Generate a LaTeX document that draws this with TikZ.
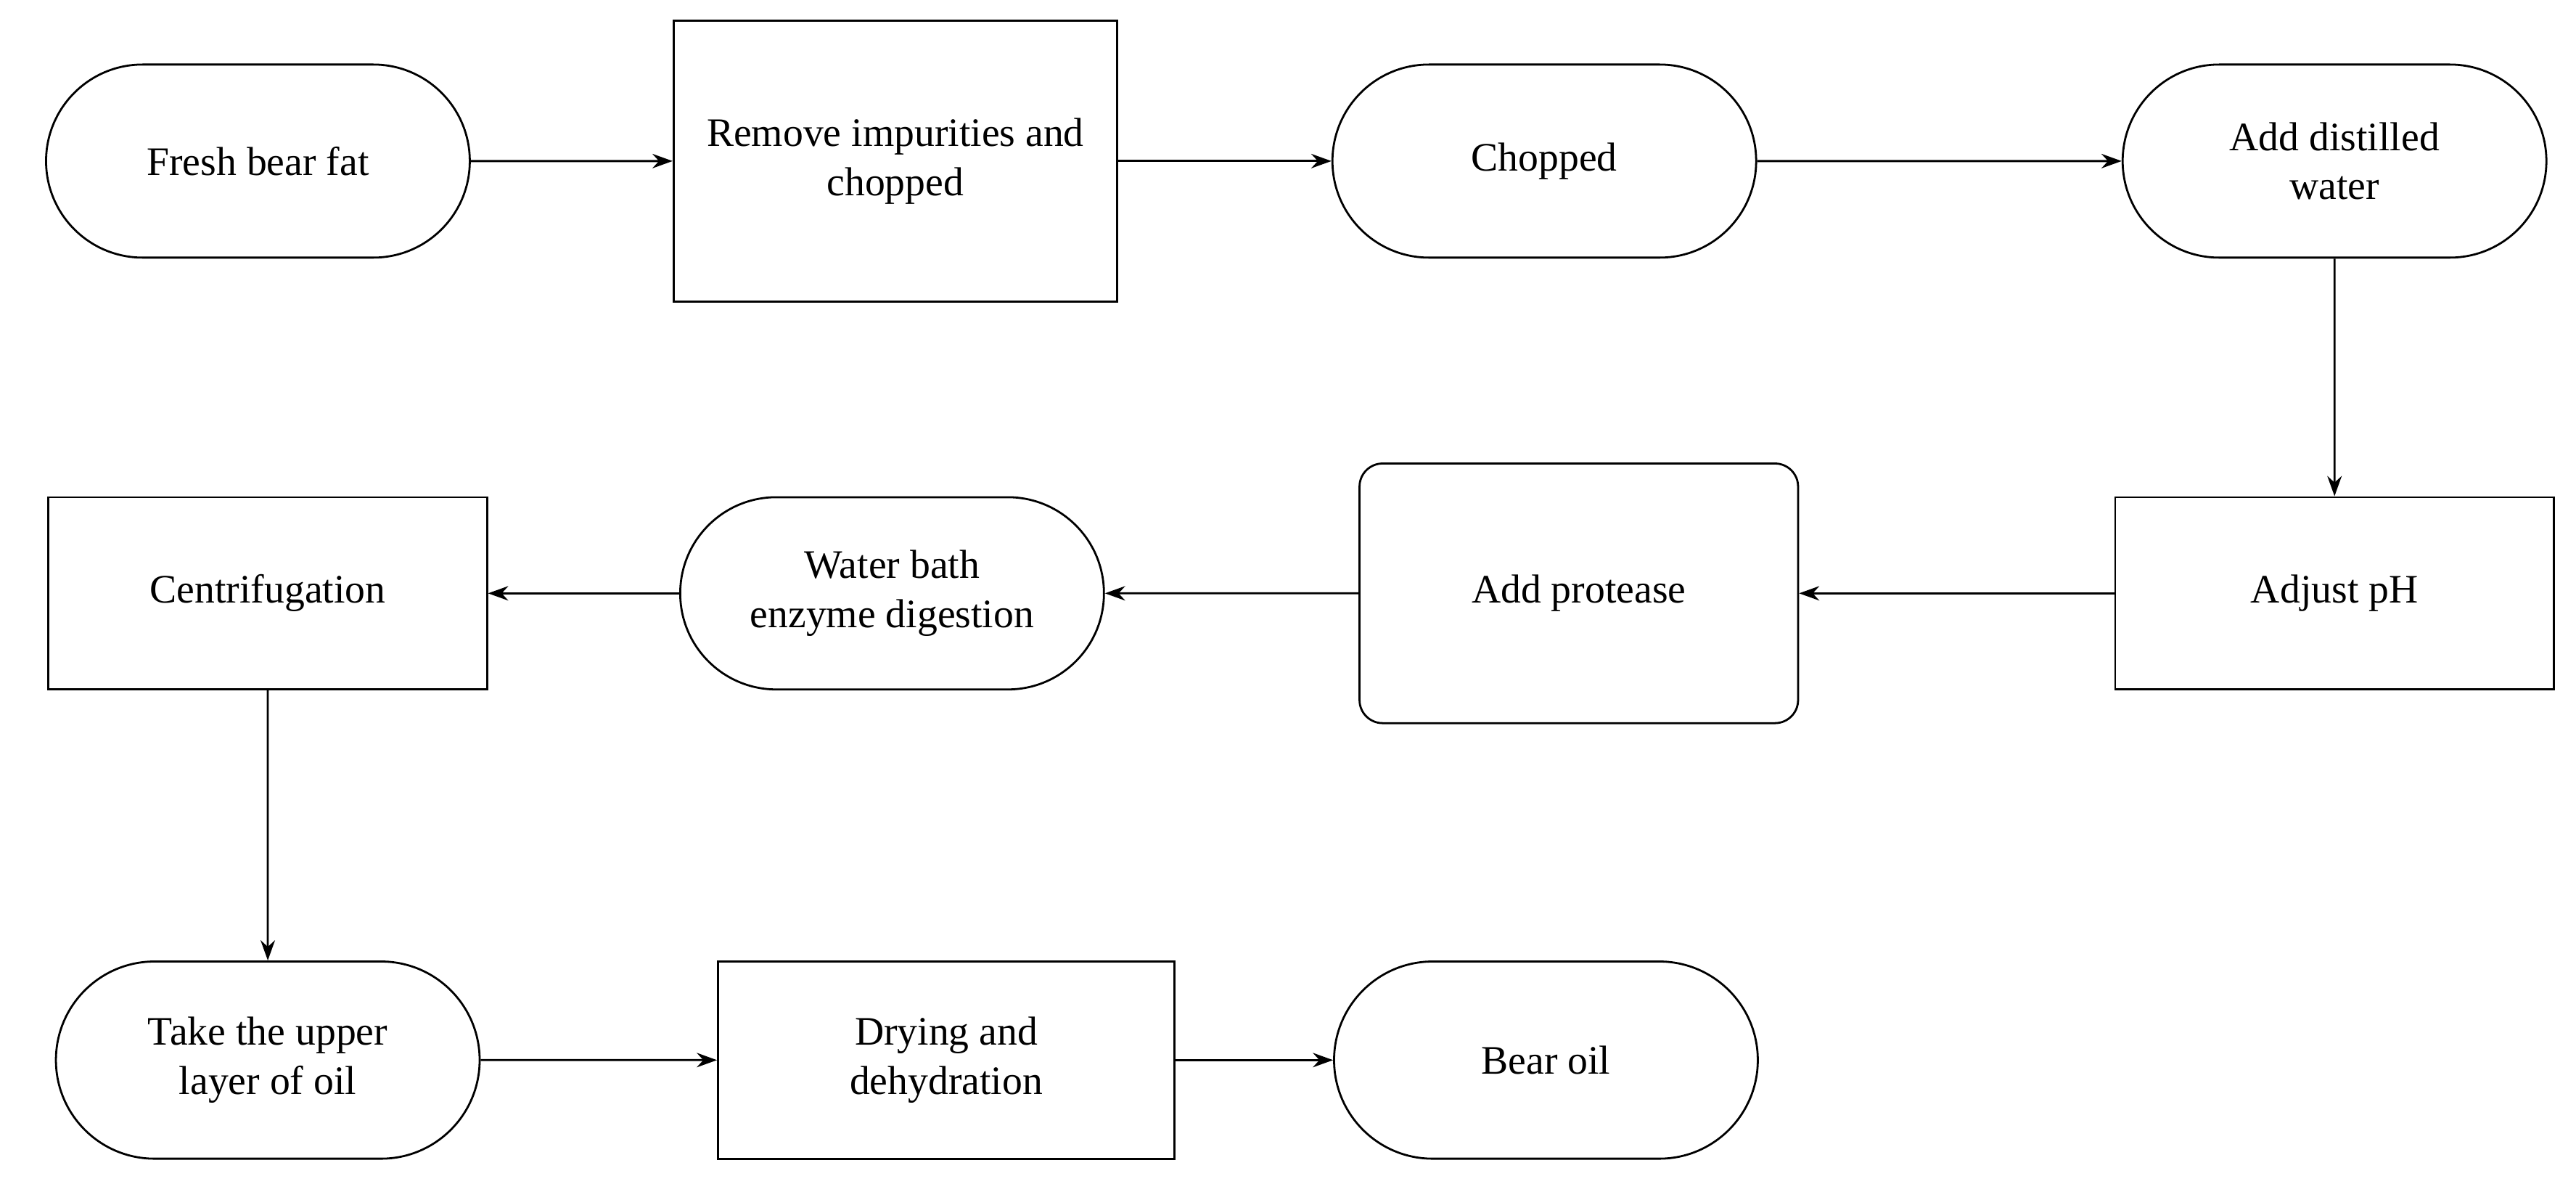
\documentclass[tikz,border=0pt]{standalone}
\usepackage{fontspec}
\setmainfont{Liberation Serif}
\usetikzlibrary{shapes.misc,arrows.meta}
\begin{document}
\begin{tikzpicture}[x=0.02cm,y=-0.02cm,
  base/.style={draw,line width=0.7pt,align=center,font=\fontsize{14}{17}\selectfont,inner sep=2pt},
  stad/.style={base,rounded rectangle,minimum width=5.3cm,minimum height=2.35cm},
  box/.style={base,rectangle},
  arr/.style={-{Stealth[length=7pt,width=5pt]},line width=0.7pt}]
\useasboundingbox (0,0) rectangle (1568,720);
\node[stad] (a) at (157,98) {Fresh bear fat};
\node[box,minimum width=5.4cm,minimum height=3.42cm] (b) at (545,98) {Remove impurities and\\chopped};
\node[stad] (c) at (940,98) {Chopped};
\node[stad] (d) at (1421,98) {Add distilled\\water};
\node[box,minimum width=5.34cm,minimum height=2.34cm] (e) at (1421,361) {Adjust pH};
\node[box,rounded corners=8pt,minimum width=5.34cm,minimum height=3.16cm] (f) at (961,361) {Add protease};
\node[stad,minimum height=2.34cm] (g) at (543,361) {Water bath\\enzyme digestion};
\node[box,minimum width=5.34cm,minimum height=2.34cm] (h) at (163,361) {Centrifugation};
\node[stad,minimum height=2.4cm] (i) at (163,645) {Take the upper\\layer of oil};
\node[box,minimum width=5.56cm,minimum height=2.4cm] (j) at (576,645) {Drying and\\dehydration};
\node[stad,minimum height=2.4cm] (k) at (941,645) {Bear oil};
\draw[arr] (a) -- (b);
\draw[arr] (b) -- (c);
\draw[arr] (c) -- (d);
\draw[arr] (d) -- (e);
\draw[arr] (e) -- (f);
\draw[arr] (f) -- (g);
\draw[arr] (g) -- (h);
\draw[arr] (h) -- (i);
\draw[arr] (i) -- (j);
\draw[arr] (j) -- (k);
\end{tikzpicture}
\end{document}
